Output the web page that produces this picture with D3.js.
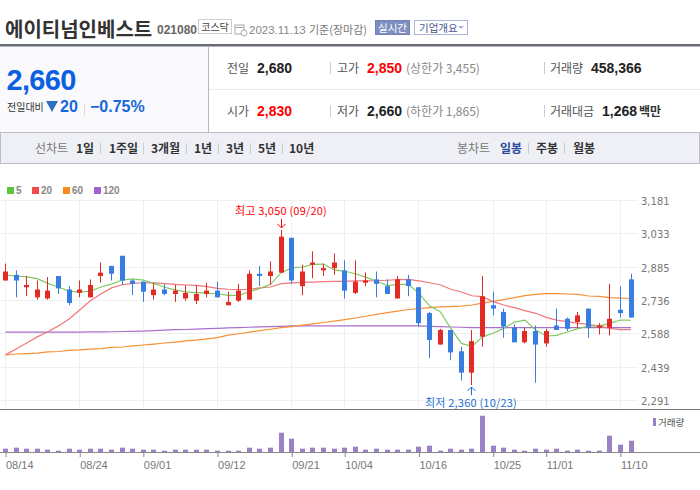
<!doctype html>
<html>
  <head>
    <meta charset="utf-8">
    <script src="https://cdnjs.cloudflare.com/ajax/libs/d3/7.8.5/d3.min.js" type="text/JavaScript"></script>
    <style>
      html, body { margin: 0; padding: 0; background: #fff; }
      svg { display: block; font-family: "Liberation Sans", "Noto Sans CJK KR", sans-serif; }
      .kr { font-family: "Noto Sans CJK KR", "Liberation Sans", sans-serif; }
    </style>
  </head>
  <body>
    <svg id="chart" width="700" height="490"></svg>
    <script>
      var dates = ["08/14","08/16","08/17","08/18","08/21","08/22","08/23","08/24","08/25","08/28",
        "08/29","08/30","08/31","09/01","09/04","09/05","09/06","09/07","09/08","09/11",
        "09/12","09/13","09/14","09/15","09/18","09/19","09/20","09/21","09/22","09/25",
        "09/26","09/27","10/04","10/05","10/06","10/10","10/11","10/12","10/13","10/16",
        "10/17","10/18","10/19","10/20","10/23","10/24","10/25","10/26","10/27","10/30",
        "10/31","11/01","11/02","11/03","11/06","11/07","11/08","11/09","11/10","11/13"];

      var opens = [2825,2850,2795,2750,2745,2845,2785,2770,2750,2845,2890,2935,2825,2820,2760,2785,2765,2745,2735,2765,
        2780,2715,2735,2740,2855,2845,2860,3015,2800,2895,2870,2880,2870,2770,2815,2830,2800,2745,2830,2795,
        2680,2540,2605,2510,2415,2575,2715,2685,2615,2550,2600,2545,2625,2655,2640,2700,2615,2615,2695,2830];
      var highs = [2900,2870,2845,2825,2840,2845,2800,2825,2830,2905,2890,2935,2830,2820,2815,2810,2805,2805,2805,2815,
        2820,2775,2810,2870,2890,2910,3050,3015,2895,2955,2900,2945,2915,2915,2860,2865,2830,2845,2850,2795,
        2685,2610,2605,2530,2605,2845,2775,2700,2630,2615,2625,2610,2700,2660,2685,2700,2635,2810,2800,2855];
      var lows = [2825,2750,2755,2740,2740,2765,2715,2750,2750,2815,2825,2805,2760,2730,2740,2760,2730,2735,2720,2750,
        2750,2715,2730,2740,2800,2805,2860,2810,2760,2835,2845,2850,2745,2765,2800,2750,2765,2745,2755,2620,
        2480,2540,2470,2380,2360,2530,2670,2570,2550,2545,2370,2530,2605,2600,2615,2570,2585,2580,2660,2660];
      var closes = [2865,2825,2805,2785,2780,2790,2725,2785,2805,2860,2855,2825,2810,2775,2785,2765,2780,2770,2765,2780,
        2750,2730,2780,2855,2845,2865,3020,2825,2865,2905,2880,2905,2780,2820,2825,2810,2765,2830,2800,2635,
        2560,2605,2505,2415,2555,2755,2700,2620,2550,2600,2540,2600,2605,2610,2670,2615,2625,2655,2680,2660];

      var volumes = [135,175,135,135,94,54,135,94,135,135,94,175,135,94,94,54,94,94,94,94,
        54,54,54,175,135,175,783,540,135,175,175,135,175,216,94,135,94,94,94,216,
        256,54,135,94,135,1471,256,175,94,54,135,94,135,54,94,54,54,661,297,458];

      var ma5 = [2849,2845,2841,2833,2812,2795,2778,2774,2778,2796,2809,2827,2832,2827,2812,2795,2783,2774,2771,2769,
        2766,2759,2759,2775,2790,2808,2860,2881,2885,2897,2898,2872,2866,2855,2839,2823,2802,2808,2808,2768,
        2712,2686,2612,2545,2532,2574,2590,2612,2640,2649,2605,2578,2581,2596,2611,2622,2622,2634,2649,2648];
      var ma20 = [2494,2520,2547,2574,2597,2623,2654,2694,2735,2765,2792,2806,2812,2815,2814,2811,2808,2805,2803,2798,
        2790,2786,2784,2786,2792,2796,2811,2814,2817,2818,2820,2821,2821,2823,2823,2824,2826,2829,2830,2823,
        2815,2806,2786,2774,2757,2753,2731,2716,2704,2691,2679,2661,2649,2642,2634,2630,2622,2612,2606,2606];
      var ma60 = [2494,2498,2500,2502,2507,2509,2514,2516,2520,2522,2527,2529,2534,2538,2542,2547,2551,2556,2560,2565,
        2571,2582,2588,2595,2602,2608,2615,2620,2626,2632,2638,2644,2651,2658,2666,2674,2682,2689,2696,2700,
        2704,2708,2709,2711,2716,2724,2732,2740,2749,2758,2763,2767,2767,2765,2763,2756,2754,2749,2747,2745];
      var ma120 = [2595,2595,2595,2595,2595,2595,2595,2595,2596,2596,2597,2598,2599,2600,2602,2604,2606,2607,2609,2611,
        2612,2614,2615,2617,2619,2620,2621,2623,2623,2623,2623,2623,2623,2623,2623,2623,2623,2623,2623,2623,
        2621,2620,2618,2617,2615,2615,2615,2615,2615,2615,2615,2615,2615,2615,2615,2615,2615,2615,2615,2615];

      var priceTicks = [3181,3033,2885,2736,2588,2439,2291];
      var dateTicks = ["08/14","08/24","09/01","09/12","09/21","10/04","10/16","10/25","11/01","11/10"];

      var maNames = ["5","20","60","120"];
      var maSwatch = ["#5cc43e","#f04b4b","#f98a1c","#a162d2"];
      var maLines = ["#7fcb62","#f0777c","#f79135","#a86fcc"];
      var maData = [ma120, ma60, ma20, ma5];
      var maOrder = [3, 2, 1, 0];

      var svg = d3.select("#chart");
      var red = "#e12b24", blue = "#387ee2", pointRed = "#ff0000";

      function label(x, y, str, size, color, weight, cls, anchor) {
        return svg.append("text")
          .attr("x", x).attr("y", y)
          .attr("class", cls || null)
          .attr("text-anchor", anchor || "start")
          .style("font-size", size + "px")
          .style("font-weight", weight || "normal")
          .style("fill", color)
          .text(str);
      }
      function box(x, y, w, h, fill, stroke) {
        return svg.append("rect")
          .attr("x", x).attr("y", y).attr("width", w).attr("height", h)
          .style("fill", fill).style("stroke", stroke || "none");
      }
      function rule(x1, y1, x2, y2, color) {
        return svg.append("line")
          .attr("x1", x1).attr("y1", y1).attr("x2", x2).attr("y2", y2)
          .style("stroke", color).style("stroke-width", 1);
      }

      // header
      label(5, 37, "에이티넘인베스트", 20, "#333", "bold", "kr");
      label(157, 34, "021080", 12, "#666", "bold");
      box(198.5, 19.5, 33, 14, "#fff", "#ccc");
      label(215, 30.5, "코스닥", 10, "#444", "normal", "kr", "middle");
      box(235, 25, 9, 9, "#fff", "#aaa");
      rule(235, 27.5, 244, 27.5, "#aaa");
      svg.append("circle").attr("cx", 244).attr("cy", 33).attr("r", 3).style("fill", "#fff").style("stroke", "#aaa");
      label(249, 34, "2023.11.13", 11.5, "#888");
      label(309, 33.5, "기준(장마감)", 11, "#777", "normal", "kr");
      box(375.5, 20.5, 34, 14, "#7d8fbf", "#6f81b3");
      label(392.5, 31.5, "실시간", 10.5, "#fff", "normal", "kr", "middle");
      box(414.5, 20.5, 53, 14, "#fff", "#aab4d8");
      label(419, 31.5, "기업개요", 10.5, "#44558f", "normal", "kr");
      svg.append("path").attr("d", "M458 26h6l-3 3z").style("fill", "#aab4d8");

      // quote panel
      box(0, 46, 208, 86, "#fafafc");
      box(0, 44, 700, 2.5, "#666b77");
      rule(208.5, 46, 208.5, 132, "#b7b7bd");
      rule(209, 89.5, 700, 89.5, "#ececec");
      label(6.5, 90, "2,660", 29, "#0b60e2", "bold").style("letter-spacing", "-0.7px");
      label(7, 111, "전일대비", 10, "#333", "normal", "kr");
      svg.append("path").attr("d", "M46 101h12l-6 11z").style("fill", "#2f6fbe");
      label(60, 112, "20", 16, "#1667d9", "bold");
      rule(84.5, 104, 84.5, 116, "#ddd");
      label(90, 112, "−0.75%", 16, "#1667d9", "bold");

      [68, 111].forEach(function(cy) {
        rule(330.5, cy - 6, 330.5, cy + 6, "#ccc");
        rule(544.5, cy - 6, 544.5, cy + 6, "#ccc");
      });
      label(227, 73, "전일", 12, "#555", "normal", "kr");
      label(257, 73, "2,680", 14, "#222", "bold");
      label(337, 73, "고가", 12, "#555", "normal", "kr");
      label(367, 73, "2,850", 14, pointRed, "bold");
      label(406, 73, "(상한가 3,455)", 12, "#888", "normal", "kr");
      label(550, 73, "거래량", 12, "#555", "normal", "kr");
      label(591, 73, "458,366", 14, "#222", "bold");
      label(227, 116, "시가", 12, "#555", "normal", "kr");
      label(257, 116, "2,830", 14, pointRed, "bold");
      label(337, 116, "저가", 12, "#555", "normal", "kr");
      label(367, 116, "2,660", 14, "#222", "bold");
      label(406, 116, "(하한가 1,865)", 12, "#888", "normal", "kr");
      label(550, 116, "거래대금", 12, "#555", "normal", "kr");
      label(602, 116, "1,268", 14, "#222", "bold");
      label(639, 116, "백만", 12, "#333", "bold", "kr");

      // period bar
      box(0.5, 132.5, 699, 31, "#eff0f5", "#bcbcc2");
      label(35, 153, "선차트", 12, "#777", "normal", "kr");
      label(457, 153, "봉차트", 12, "#777", "normal", "kr");
      var lineTabs = [["1일",76],["1주일",109],["3개월",151],["1년",194],["3년",226],["5년",258],["10년",289]];
      var candleTabs = [["일봉",500],["주봉",536],["월봉",573]];
      lineTabs.forEach(function(t) { label(t[1], 153, t[0], 12, "#333", "bold", "kr"); });
      candleTabs.forEach(function(t, i) { label(t[1], 153, t[0], 12, i == 0 ? "#2b4a9b" : "#333", "bold", "kr"); });
      [100, 143, 186, 218, 250, 282, 528, 564].forEach(function(x) { rule(x + 0.5, 143, x + 0.5, 154, "#ccc"); });

      // legend
      maNames.forEach(function(name, i) {
        var lx = [7, 32, 63, 94][i];
        box(lx, 187, 7, 7, maSwatch[i]);
        label(lx + 9, 194, name, 10, "#888", "bold");
      });

      // scales
      var x = d3.scalePoint().domain(dates).range([5.5, 631]);
      var y = d3.scaleLinear().domain([2291, 3181]).range([400.5, 200.5]);
      var yVol = d3.scaleLinear().domain([0, 1500]).range([452, 415]);
      var px = function(d) { return Math.floor(x(d)) + 0.5; };

      // grid
      var grid = svg.append("g").style("stroke", "#efefef").style("stroke-width", 1);
      grid.selectAll(".h").data(priceTicks).enter().append("line")
        .attr("x1", 0).attr("x2", 638)
        .attr("y1", d => Math.floor(y(d)) + 0.5)
        .attr("y2", d => Math.floor(y(d)) + 0.5);
      grid.selectAll(".v").data(dateTicks).enter().append("line")
        .attr("x1", d => px(d)).attr("x2", d => px(d))
        .attr("y1", 200).attr("y2", 409);

      // price axis
      var priceAxis = d3.axisRight(y)
        .tickValues(priceTicks)
        .tickSize(0)
        .tickPadding(0)
        .tickFormat(d3.format(","));
      var gPrice = svg.append("g").attr("transform", "translate(641,1)").call(priceAxis);
      gPrice.select(".domain").remove();
      gPrice.selectAll("text").style("fill", "#777").style("font-family", "'DejaVu Sans'").style("font-size", "10px");

      // moving averages
      var line = d3.line().x((d, i) => x(dates[i])).y(d => y(d));
      svg.selectAll(".ma").data(maData).enter().append("path")
        .attr("d", line)
        .style("fill", "none")
        .style("stroke", (d, i) => maLines[maOrder[i]])
        .style("stroke-width", 1.2);

      // candles
      var candle = svg.selectAll(".candle").data(dates).enter().append("g");
      var isUp = (i) => closes[i] > opens[i];
      candle.append("line")
        .attr("x1", d => px(d)).attr("x2", d => px(d))
        .attr("y1", (d, i) => y(highs[i]))
        .attr("y2", (d, i) => y(lows[i]))
        .style("stroke", (d, i) => isUp(i) ? red : blue)
        .style("stroke-width", 1);
      candle.append("rect")
        .attr("x", d => px(d) - 2.5)
        .attr("width", 5)
        .attr("y", (d, i) => y(Math.max(opens[i], closes[i])))
        .attr("height", (d, i) => Math.max(1, Math.abs(y(opens[i]) - y(closes[i]))))
        .style("fill", (d, i) => isUp(i) ? red : blue);

      // high and low notes
      var hiDate = "09/20", hiVal = 3050, loDate = "10/23", loVal = 2360;
      label(235, 215, "최고 3,050 (09/20)", 11, pointRed, "normal", "kr").style("letter-spacing", "0.2px");
      label(425, 407, "최저 2,360 (10/23)", 11, "#1a6fd4", "normal", "kr").style("letter-spacing", "0.2px");
      svg.append("path")
        .attr("d", "M" + px(hiDate) + " " + (y(hiVal) - 11) + "v9m-4 -4l4 4l4 -4")
        .style("fill", "none").style("stroke", pointRed);
      svg.append("path")
        .attr("d", "M" + px(loDate) + " " + (y(loVal) + 10) + "v-8m-4 4l4 -4l4 4")
        .style("fill", "none").style("stroke", "#1a6fd4");

      // panel border
      rule(0, 409.5, 700, 409.5, "#777");

      // volume
      svg.selectAll(".vol").data(dates).enter().append("rect")
        .attr("x", d => px(d) - 2.5)
        .attr("width", 5)
        .attr("y", (d, i) => yVol(volumes[i]))
        .attr("height", (d, i) => yVol(0) - yVol(volumes[i]))
        .style("fill", "#9b82c4");
      box(653, 418, 3, 8, "#9b82c4");
      label(658, 426, "거래량", 9.5, "#555", "normal", "kr");

      // date axis
      var dateAxis = d3.axisBottom(x)
        .tickValues(dateTicks)
        .tickSize(5)
        .tickPadding(4);
      var gDate = svg.append("g").attr("transform", "translate(0,452)").call(dateAxis);
      gDate.select(".domain").remove();
      rule(0, 452.5, 700, 452.5, "#888");
      gDate.selectAll("line").style("stroke", "#888");
      gDate.selectAll("text")
        .attr("text-anchor", "start")
        .style("font-size", "11px")
        .style("fill", "#777")
        .style("font-family", "'Liberation Sans'");
    </script>
  </body>
</html>
